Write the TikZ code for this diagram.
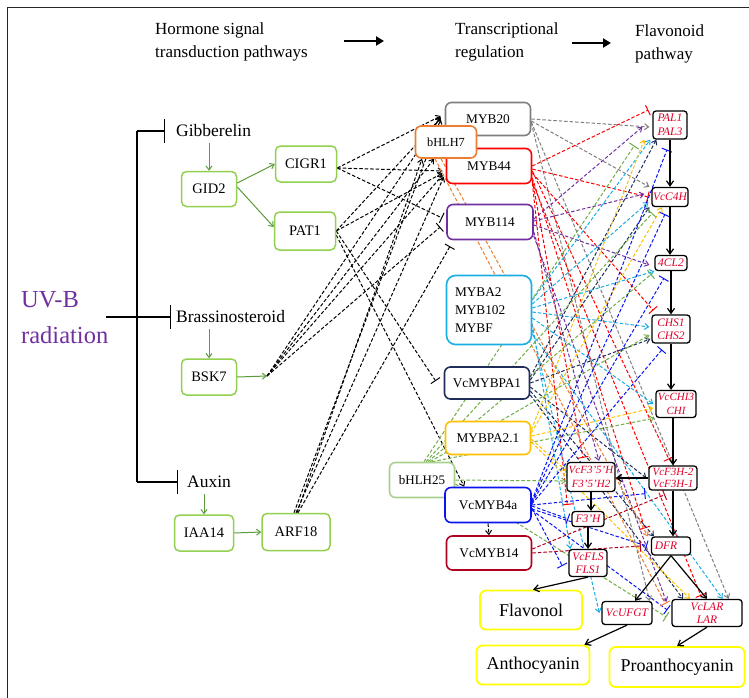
\documentclass[tikz,border=0pt]{standalone}
\usepackage{fontspec}
\setmainfont{Liberation Serif}
\usetikzlibrary{arrows.meta,calc}
\pgfdeclarelayer{bg}
\pgfsetlayers{bg,main}
\definecolor{cgreen}{HTML}{92D050}
\definecolor{cgarrow}{HTML}{5B9B3A}
\definecolor{clgreen}{HTML}{A9D18E}
\definecolor{cgray}{HTML}{7F7F7F}
\definecolor{cred}{HTML}{FF0000}
\definecolor{cpurple}{HTML}{7030A0}
\definecolor{ccyan}{HTML}{1AADE4}
\definecolor{cnavy}{HTML}{1F2D5A}
\definecolor{cgold}{HTML}{FFC000}
\definecolor{cdgreen}{HTML}{70AD47}
\definecolor{cblue}{HTML}{0A14F0}
\definecolor{cdred}{HTML}{B00020}
\definecolor{corange}{HTML}{ED7D31}
\definecolor{cyellow}{HTML}{FFFF00}
\definecolor{ctext}{HTML}{E0002A}
\definecolor{cuvb}{HTML}{7030A0}
\tikzset{
 gbox/.style={draw=cgreen, line width=1.5pt, rounded corners=5pt, fill=white, inner sep=0pt, font=\fontsize{14.5}{17}\selectfont},
 mbox/.style={line width=1.6pt, rounded corners=6pt, fill=white, inner sep=0pt, font=\fontsize{13.3}{18}\selectfont},
 ebox/.style={draw=black, line width=1.3pt, rounded corners=3pt, fill=white, inner sep=0pt, text=ctext, align=center, font=\fontsize{11.5}{13.5}\selectfont\itshape},
 pbox/.style={draw=cyellow, line width=1.8pt, rounded corners=6pt, fill=white, inner sep=0pt, font=\fontsize{18}{20}\selectfont},
 hdr/.style={align=left, inner sep=0pt, font=\fontsize{17}{23}\selectfont},
 lbl/.style={inner sep=0pt, font=\fontsize{17.5}{20}\selectfont},
 dsh/.style={dash pattern=on 3.5pt off 2pt, line width=1pt},
 arr/.style={-{Straight Barb[length=4pt,width=6pt]}},
 tbar/.style={-{Bar[width=11pt]}},
 sol/.style={line width=1.2pt, -{Straight Barb[length=5pt,width=7pt]}},
 garr/.style={draw=cgarrow, line width=1pt, -{Straight Barb[length=4pt,width=6pt]}},
 blk/.style={line width=1.4pt},
}
\begin{document}
\begin{tikzpicture}[x=1pt,y=-1pt]
\useasboundingbox (0,0) rectangle (749,698);
\draw[line width=1pt, black!85] (7,698) -- (7,8) -- (749,8);

% header
\node[hdr, anchor=west] (H1) at (155,42) {Hormone signal\\transduction pathways};
\node[hdr, anchor=west] (H2) at (455,42) {Transcriptional\\regulation};
\node[hdr, anchor=west] (H3) at (635,44) {Flavonoid\\pathway};
\coordinate (a1s) at (344,41); \coordinate (a1e) at (384,41);
\coordinate (a2s) at (572,43); \coordinate (a2e) at (611,43);
\draw[line width=2pt, -{Triangle[length=8pt,width=9pt]}] (a1s) -- (a1e);
\draw[line width=2pt, -{Triangle[length=8pt,width=9pt]}] (a2s) -- (a2e);

% UV-B and hormones
\node[align=left, inner sep=0pt, anchor=west, text=cuvb, font=\fontsize{24.5}{36}\selectfont] (UVB) at (21,318) {UV-B\\radiation};
\node[lbl, anchor=west] (Gib) at (176,131) {Gibberelin};
\node[lbl, anchor=west] (Bra) at (176,317) {Brassinosteroid};
\node[lbl, anchor=west] (Aux) at (187,482) {Auxin};
\coordinate (uvs) at (106,317);
\coordinate (vt) at (137,131);
\coordinate (vm) at (137,317);
\coordinate (vb) at (137,482);
\draw[blk] (vt) -- (vb);
\draw[blk, -{Bar[width=24pt]}] (uvs) -- ([xshift=-5pt]Bra.west);
\draw[blk, -{Bar[width=24pt]}] (vt) -- ([xshift=-11pt]Gib.west);
\draw[blk, -{Bar[width=24pt]}] (vb) -- ([xshift=-9pt]Aux.west);

% green boxes
\node[gbox, minimum width=55pt, minimum height=35pt] (GID2) at (209,189) {GID2};
\node[gbox, minimum width=61pt, minimum height=36pt] (CIGR1) at (306,164) {CIGR1};
\node[gbox, minimum width=61pt, minimum height=38pt] (PAT1) at (305,231) {PAT1};
\node[gbox, minimum width=55pt, minimum height=36pt] (BSK7) at (209,377) {BSK7};
\node[gbox, minimum width=59pt, minimum height=36pt] (IAA14) at (204,533) {IAA14};
\node[gbox, minimum width=68pt, minimum height=37pt] (ARF18) at (296,532) {ARF18};
\coordinate (bsk) at (267,376);

\draw[garr] ([yshift=-6pt]Gib.south -| GID2.north) -- (GID2.north);
\draw[garr] ([yshift=-6pt]Bra.south -| BSK7.north) -- (BSK7.north);
\draw[garr] ([yshift=-6pt]Aux.south -| IAA14.north) -- (IAA14.north);
\draw[garr] ([yshift=6pt]GID2.east) -- (CIGR1.west);
\draw[garr] ([yshift=2pt]GID2.east) -- ([yshift=4pt]PAT1.west);
\draw[garr] (BSK7.east) -- (bsk);
\draw[garr] (IAA14.east) -- (ARF18.west);

% MYB column
\node[mbox, draw=cgray, minimum width=85pt, minimum height=33pt] (MYB20) at (488,119) {MYB20};
\node[mbox, draw=cred, minimum width=85pt, minimum height=35pt] (MYB44) at (489,166) {MYB44};
\node[mbox, draw=corange, minimum width=61pt, minimum height=32pt, font=\fontsize{12.3}{14}\selectfont] (bHLH7) at (446,142) {bHLH7};
\node[mbox, draw=cpurple, minimum width=86pt, minimum height=35pt] (MYB114) at (490,222) {MYB114};
\node[mbox, draw=ccyan, minimum width=85pt, minimum height=69pt, align=left, text width=68pt, rounded corners=9pt] (MYBA2) at (489,310) {MYBA2\\MYB102\\MYBF};
\node[mbox, draw=cnavy, minimum width=85pt, minimum height=32pt] (PA1) at (487,383) {VcMYBPA1};
\node[mbox, draw=cgold, minimum width=85pt, minimum height=33pt] (PA2) at (488,438) {MYBPA2.1};
\node[mbox, draw=clgreen, minimum width=65pt, minimum height=35pt, font=\fontsize{13}{15}\selectfont] (bHLH25) at (422,480) {bHLH25};
\node[mbox, draw=cblue, minimum width=86pt, minimum height=35pt] (MYB4a) at (488,505) {VcMYB4a};
\node[mbox, draw=cdred, minimum width=85pt, minimum height=34pt] (MYB14) at (489,553) {VcMYB14};

% enzymes
\node[ebox, minimum width=34pt, minimum height=28pt] (PAL) at (670,125) {PAL1\\PAL3};
\node[ebox, minimum width=36pt, minimum height=19pt] (C4H) at (670,197) {VcC4H};
\node[ebox, minimum width=32pt, minimum height=15pt] (CL4) at (671,263) {4CL2};
\node[ebox, minimum width=38pt, minimum height=28pt] (CHS) at (671,329) {CHS1\\CHS2};
\node[ebox, minimum width=40pt, minimum height=27pt, font=\fontsize{11}{13.5}\selectfont\itshape] (CHI) at (676,404) {VcCHI3\\CHI};
\node[ebox, minimum width=48pt, minimum height=24pt, font=\fontsize{11}{12.5}\selectfont\itshape] (F3H) at (673,478) {VcF3H-2\\VcF3H-1};
\node[ebox, minimum width=48pt, minimum height=29pt, font=\fontsize{11}{13.5}\selectfont\itshape] (F35H) at (591,477) {VcF3'5'H\\F3'5'H2};
\node[ebox, minimum width=32pt, minimum height=15pt] (F3pH) at (588,519) {F3'H};
\node[ebox, minimum width=39pt, minimum height=18pt] (DFR) at (671,546) {DFR\hspace{10pt}};
\node[ebox, minimum width=38pt, minimum height=27pt] (FLS) at (588,563) {VcFLS\\FLS1};
\node[ebox, minimum width=50pt, minimum height=23pt] (UFGT) at (627,613) {VcUFGT};
\node[ebox, minimum width=70pt, minimum height=27pt] (LAR) at (707,613) {VcLAR\\LAR};

% products
\node[pbox, minimum width=102pt, minimum height=39pt] (Flav) at (531,610) {Flavonol};
\node[pbox, minimum width=113pt, minimum height=39pt] (Antho) at (533,665) {Anthocyanin};
\node[pbox, minimum width=135pt, minimum height=40pt] (Proan) at (677,667) {Proanthocyanin};

% pathway arrows
\draw[sol] (PAL.south) -- (PAL.south |- C4H.north);
\draw[sol] (C4H.south) -- (C4H.south |- CL4.north);
\draw[sol] (CL4.south) -- (CL4.south |- CHS.north);
\draw[sol] (CHS.south) -- (CHS.south |- CHI.north);
\draw[sol] ([xshift=-3pt]CHI.south) -- ([xshift=-3pt]CHI.south |- F3H.north);
\draw[sol] (F3H.west) -- (F3H.west -| F35H.east);
\draw[sol] (F35H.south) -- (F35H.south |- F3pH.north);
\draw[sol] (F3pH.south) -- (F3pH.south |- FLS.north);
\draw[sol] (F3H.south) -- (F3H.south |- DFR.north);
\draw[sol] (FLS.south) -- ([xshift=2pt]Flav.north);
\draw[sol] (DFR.south) -- ([xshift=8pt]UFGT.north);
\draw[sol] (DFR.south) -- (LAR.north);
\draw[sol] (UFGT.south) -- ([xshift=-6pt]Antho.north east);
\draw[sol] (LAR.south) -- (Proan.north);

\begin{pgfonlayer}{bg}
% hormone -> TF
\draw[dsh,arr] ([yshift=-4pt]CIGR1.east) -- ([xshift=-4pt,yshift=3pt]MYB20.west);
\draw[dsh,arr] ([yshift=-4pt]CIGR1.east) -- ([xshift=-3pt,yshift=-5pt]MYB44.west);
\draw[dsh,tbar] ([yshift=-4pt]CIGR1.east) -- ([xshift=-4pt,yshift=4pt]MYB114.west);
\draw[dsh,arr] (PAT1.east) -- ([xshift=-4pt,yshift=1pt]MYB20.west);
\draw[dsh,arr] (PAT1.east) -- ([xshift=-3pt,yshift=-7pt]MYB44.west);
\draw[dsh,tbar] (PAT1.east) -- ([xshift=-8pt,yshift=2pt]PA1.west);
\draw[dsh,arr] ([yshift=-4pt]PAT1.east) -- ([xshift=20pt]MYB4a.north west);
\draw[dsh,arr] (bsk) -- ([xshift=-4pt,yshift=2pt]MYB20.west);
\draw[dsh,arr] (bsk) -- ([xshift=-3pt,yshift=-9pt]MYB44.west);
\draw[dsh,tbar] (bsk) -- ([xshift=-6pt,yshift=-5pt]MYB114.west);
\draw[dsh,arr] (bsk) -- ([xshift=-12pt]bHLH7.south);
\draw[dsh,arr] ([xshift=-2pt]ARF18.north) -- ([xshift=-4pt]MYB20.west);
\draw[dsh,arr] (ARF18.north) -- ([xshift=-2pt,yshift=-11pt]MYB44.west);
\draw[dsh,tbar] ([xshift=2pt]ARF18.north) -- ([xshift=-40pt,yshift=-6pt]MYB114.south);
\draw[dsh,arr] ([xshift=1pt]ARF18.north) -- ([xshift=-24pt]bHLH7.south);

% gray MYB20
\draw[dsh,arr,cgray] (MYB20.east) -- ([xshift=-3pt,yshift=-2pt]PAL.west);
\draw[dsh,arr,cgray] ([yshift=-2pt]MYB20.east) -- ([xshift=-2pt]C4H.north west);
\draw[dsh,arr,cgray] ([yshift=-3pt]MYB20.east) -- ([xshift=-14pt]LAR.north east);
\draw[dsh,arr,cgray] ([yshift=-4pt]MYB20.east) -- ([xshift=-3pt]UFGT.north east);

% red MYB44
\draw[dsh,tbar,cred] (MYB44.east) -- ([xshift=-4pt,yshift=15pt]PAL.west);
\draw[dsh,tbar,cred] ([yshift=-3pt]MYB44.east) -- ([xshift=-3pt]C4H.west);
\draw[dsh,tbar,cred] ([yshift=-7pt]MYB44.east) -- ([xshift=2pt,yshift=4pt]CHS.north west);
\draw[dsh,tbar,cred] ([yshift=-5pt]MYB44.east) -- ([xshift=-4pt,yshift=6pt]F3H.north);
\draw[dsh,tbar,cred] ([yshift=-12pt]MYB44.east) -- ([xshift=-6pt,yshift=8pt]DFR.north west);
\draw[dsh,tbar,cred] ([yshift=-16pt]MYB44.east) -- ([xshift=-6pt,yshift=3pt]LAR.north);
\draw[dsh,tbar,cred] ([yshift=-14pt]MYB44.east) -- ([xshift=-8pt,yshift=4pt]F35H.north);
\draw[dsh,tbar,cred] ([yshift=-17pt]MYB44.east) -- ([xshift=-4pt,yshift=6pt]F3pH.north west);

% purple MYB114
\draw[dsh,arr,cpurple] ([yshift=3pt]MYB114.east) -- ([xshift=-10pt,yshift=-2pt]PAL.west);
\draw[dsh,arr,cpurple] ([yshift=1pt]MYB114.east) -- ([xshift=-7pt,yshift=3pt]C4H.west);
\draw[dsh,arr,cpurple] ([yshift=-3pt]MYB114.east) -- ([xshift=-5pt,yshift=-2pt]CL4.west);
\draw[dsh,arr,cpurple] ([yshift=-10pt]MYB114.east) -- ([xshift=8pt,yshift=1pt]F35H.north);
\draw[dsh,arr,cpurple] ([yshift=-14pt]MYB114.east) -- ([xshift=-5pt,yshift=-3pt]LAR.north west);

% cyan MYBA2
\draw[dsh,arr,ccyan] ([yshift=10pt]MYBA2.east) -- ([xshift=-2pt]PAL.south west);
\draw[dsh,arr,ccyan] ([yshift=6pt]MYBA2.east) -- ([xshift=-3pt,yshift=-5pt]C4H.west);
\draw[dsh,arr,ccyan] ([yshift=2pt]MYBA2.east) -- (CL4.south west);
\draw[dsh,arr,ccyan] ([yshift=-2pt]MYBA2.east) -- ([xshift=-2pt,yshift=2pt]CHS.west);
\draw[dsh,arr,ccyan] ([yshift=-8pt]MYBA2.east) -- ([xshift=-2pt]CHI.west);
\draw[dsh,arr,ccyan] ([yshift=-14pt]MYBA2.east) -- ([xshift=2pt]FLS.north west);
\draw[dsh,arr,ccyan] ([yshift=-20pt]MYBA2.east) -- ([xshift=-2pt]UFGT.west);
\draw[dsh,arr,ccyan] ([yshift=-24pt]MYBA2.east) -- ([xshift=-20pt]LAR.north east);

% navy VcMYBPA1
\draw[dsh,arr,cnavy] ([yshift=6pt]PA1.east) -- ([xshift=4pt]PAL.south west);
\draw[dsh,arr,cnavy] ([yshift=3pt]PA1.east) -- ([xshift=-2pt]C4H.south west);
\draw[dsh,arr,cnavy] (PA1.east) -- ([xshift=-1pt,yshift=-10pt]CHS.west);
\draw[dsh,arr,cnavy] ([yshift=-4pt]PA1.east) -- ([xshift=-2pt]F3H.west);
\draw[dsh,arr,cnavy] ([yshift=-8pt]PA1.east) -- ([xshift=3pt]DFR.north west);
\draw[dsh,arr,cnavy] ([yshift=-12pt]PA1.east) -- ([xshift=-24pt]LAR.north);

% gold MYBPA2.1
\draw[dsh,arr,cgold] ([yshift=8pt]PA2.east) -- ([xshift=-8pt]PAL.south west);
\draw[dsh,arr,cgold] ([yshift=5pt]PA2.east) -- ([xshift=-8pt]C4H.south);
\draw[dsh,arr,cgold] ([yshift=2pt]PA2.east) -- ([xshift=-2pt,yshift=-4pt]CHI.west);
\draw[dsh,arr,cgold] ([yshift=-1pt]PA2.east) -- ([yshift=6pt]F35H.west);
\draw[dsh,arr,cgold] ([yshift=-4pt]PA2.east) -- ([xshift=-17pt]LAR.north);

% green bHLH25
\draw[dsh,tbar,cdgreen] ([xshift=2pt]bHLH25.north) -- ([xshift=-18pt,yshift=-6pt]PAL.south west);
\draw[dsh,tbar,cdgreen] ([xshift=4pt]bHLH25.north) -- ([xshift=1pt,yshift=-6pt]C4H.south west);
\draw[dsh,tbar,cdgreen] ([xshift=6pt]bHLH25.north) -- ([xshift=-3pt,yshift=-3pt]CL4.south west);
\draw[dsh,arr,cdgreen] ([xshift=8pt]bHLH25.north) -- ([xshift=-2pt,yshift=-6pt]CHS.west);
\draw[dsh,arr,cdgreen] ([xshift=10pt]bHLH25.north) -- ([xshift=-1pt]CHI.south west);
\draw[dsh,arr,cdgreen] (bHLH25.east) -- ([yshift=-4pt]F35H.west);
\draw[dsh,tbar,cdgreen] ([yshift=-4pt]bHLH25.east) -- ([xshift=-5pt,yshift=-4pt]LAR.west);

% blue VcMYB4a
\draw[dsh,tbar,cblue] ([yshift=4pt]MYB4a.east) -- ([xshift=-3pt,yshift=-10pt]PAL.south);
\draw[dsh,tbar,cblue] ([yshift=3pt]MYB4a.east) -- ([xshift=-5pt,yshift=-7pt]C4H.south);
\draw[dsh,tbar,cblue] ([yshift=2pt]MYB4a.east) -- ([xshift=-7pt,yshift=-7pt]CL4.south);
\draw[dsh,tbar,cblue] ([yshift=1pt]MYB4a.east) -- ([xshift=-9pt,yshift=-6pt]CHS.south);
\draw[dsh,tbar,cblue] (MYB4a.east) -- ([xshift=-3pt,yshift=-3pt]F3H.south west);
\draw[dsh,tbar,cblue] ([yshift=-1pt]MYB4a.east) -- ([xshift=-3pt]F3pH.west);
\draw[dsh,tbar,cblue] ([yshift=-3pt]MYB4a.east) -- ([xshift=-6pt,yshift=-3pt]FLS.west);
\draw[dsh,tbar,cblue] ([yshift=-4pt]MYB4a.east) -- ([xshift=-4pt]DFR.west);
\draw[dsh,tbar,cblue] ([yshift=-5pt]MYB4a.east) -- ([xshift=-4pt,yshift=3pt]LAR.west);
\draw[dsh,arr] (MYB4a.south) -- (MYB14.north);

% dark red VcMYB14
\draw[dsh,tbar,cdred] (MYB14.east) -- ([xshift=-10pt]DFR.west);
\draw[dsh,tbar,cdred] ([yshift=4pt]MYB14.east) -- ([xshift=-8pt,yshift=-4pt]F3H.south);

% orange bHLH7
\draw[dsh,tbar,corange] ([xshift=-11pt]bHLH7.south) -- ([xshift=-6pt,yshift=-5pt]LAR.north west);
\draw[dsh,arr,corange] ([xshift=-5pt]bHLH7.south) -- ([xshift=-3pt]DFR.north west);
\end{pgfonlayer}
\end{tikzpicture}
\end{document}
